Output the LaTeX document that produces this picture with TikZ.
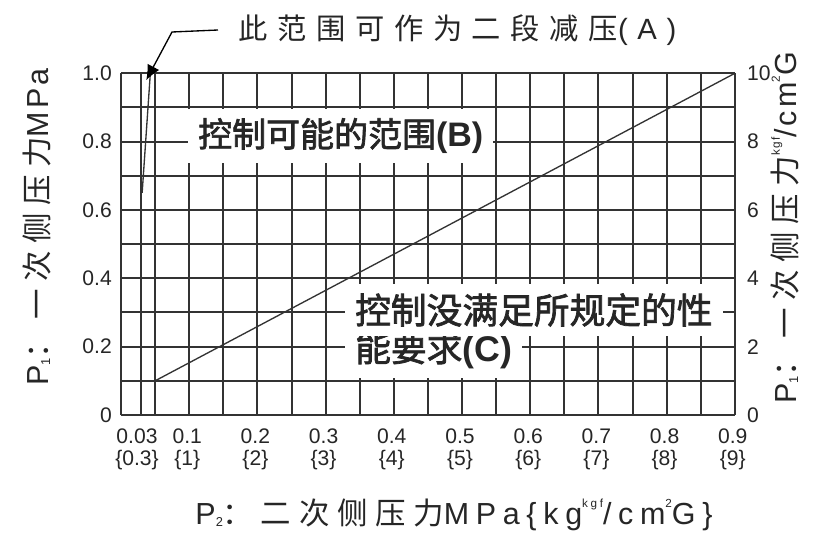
\documentclass[tikz,border=0pt]{standalone}
\usepackage{fontspec}
\setmainfont{Liberation Sans}
\newfontfamily\cjk{Noto Sans CJK SC}[AutoFakeBold=2]
\newfontfamily\cjkwide{Noto Sans CJK SC}[LetterSpace=25]
\newfontfamily\cjknote{Noto Sans CJK SC}[LetterSpace=33]
\newfontfamily\latinnote{Liberation Sans}[LetterSpace=33]
\newfontfamily\latinwide{Liberation Sans}[LetterSpace=10]
\newfontfamily\latinwider{Liberation Sans}[LetterSpace=22]
\newcommand{\supsmall}[1]{\raisebox{0.55em}{\fontsize{10}{10}\selectfont #1}}
\newcommand{\subsmall}[1]{\raisebox{-0.05em}{\fontsize{11}{11}\selectfont #1}}
\usetikzlibrary{arrows.meta}

\begin{document}
\begin{tikzpicture}[
		x=0.3mm, y=-0.3mm,
		every node/.style={inner sep=0pt, text=black!85},
		gridline/.style={draw=black!80, line width=0.6mm},
		chartline/.style={draw=black!80, line width=0.4mm},
		ticklabel/.style={font=\fontsize{18}{18}\selectfont},
		axistitle/.style={font=\fontsize{26}{26}\selectfont},
		region/.style={fill=white, anchor=west, inner xsep=3mm, inner ysep=2.8mm, font=\fontsize{29}{29}\selectfont\bfseries},
		leader/.style={draw=black, line width=0.4mm, -{Latex[length=4.5mm, width=4mm]}}
	]
  \path[use as bounding box, fill=white] (0,0) rectangle (816,541);
  \begin{scope}[shift={(121,415)}, x=204.6mm, y=102.5mm]
    \foreach \i in {0,...,18} \draw[gridline] (0.05*\i,0) -- (0.05*\i,1);
    \foreach \j in {0,...,10} \draw[gridline] (0,0.1*\j) -- (0.9,0.1*\j);
    \draw[gridline] (0.03,0) -- (0.03,1);
    \draw[chartline] (0.05,0.1) -- (0.9,1);
    \draw[chartline] (0.031,0.65) -- (0.043,1);
    \coordinate (aTop) at (0.037,0.98);
  \end{scope}
  \foreach \v/\t/\r in {0/0/0, 1/0.2/2, 2/0.4/4, 3/0.6/6, 4/0.8/8, 5/1.0/10} {
    \node (yl\v) [ticklabel, anchor=east] at (112,{415-68.34*\v}) {\t};
    \node (yr\v) [ticklabel, anchor=west] at (747,{415-68.34*\v}) {\r};
  }
  \node (xa0) [ticklabel] at (137,436) {0.03};
  \node (xb0) [ticklabel] at (137,460) {\{0.3\}};
  \foreach \v in {1,...,9} {
    \node (xa\v) [ticklabel] at ({119+68.2*\v},436) {0.\v};
    \node (xb\v) [ticklabel] at ({119+68.2*\v},460) {\{\v\}};
  }
  \node (regionB) [region] at (188,136) {{\cjk 控制可能的范围}(B)};
  \node (regionC2) [region, font=\fontsize{30.5}{30.5}\selectfont\bfseries] at (345,350) {{\cjk 能要求}(C)};
  \node (regionC1) [region, font=\fontsize{30.5}{30.5}\selectfont\bfseries] at (345,310) {\cjk 控制没满足所规定的性};
  \node (noteA) [anchor=west, font=\fontsize{25}{25}\selectfont] at (238,30) {{\cjknote 此范围可作为二段减压}{\latinnote(A)}};
  \coordinate (bend) at (172,32);
  \draw[leader] ([xshift=-6mm]noteA.west) -- (bend) -- (aTop);
  \node (titleL) [axistitle, rotate=90] at (37,227) {{\latinwide P\subsmall{1}}{\cjkwide ：一次侧压力}{\latinwide MPa}};
  \node (titleR) [axistitle, rotate=90] at (785,228) {{\latinwide P\subsmall{1}}{\cjkwide ：一次侧压力}{\latinwide\supsmall{kgf}/cm\supsmall{2}G}};
  \node (titleB) [axistitle] at (454,515) {{\latinwider P\subsmall{2}}{\cjkwide ：二次侧压力}{\latinwider MPa\{kg\supsmall{kgf}/cm\supsmall{2}G\}}};
\end{tikzpicture}
\end{document}
